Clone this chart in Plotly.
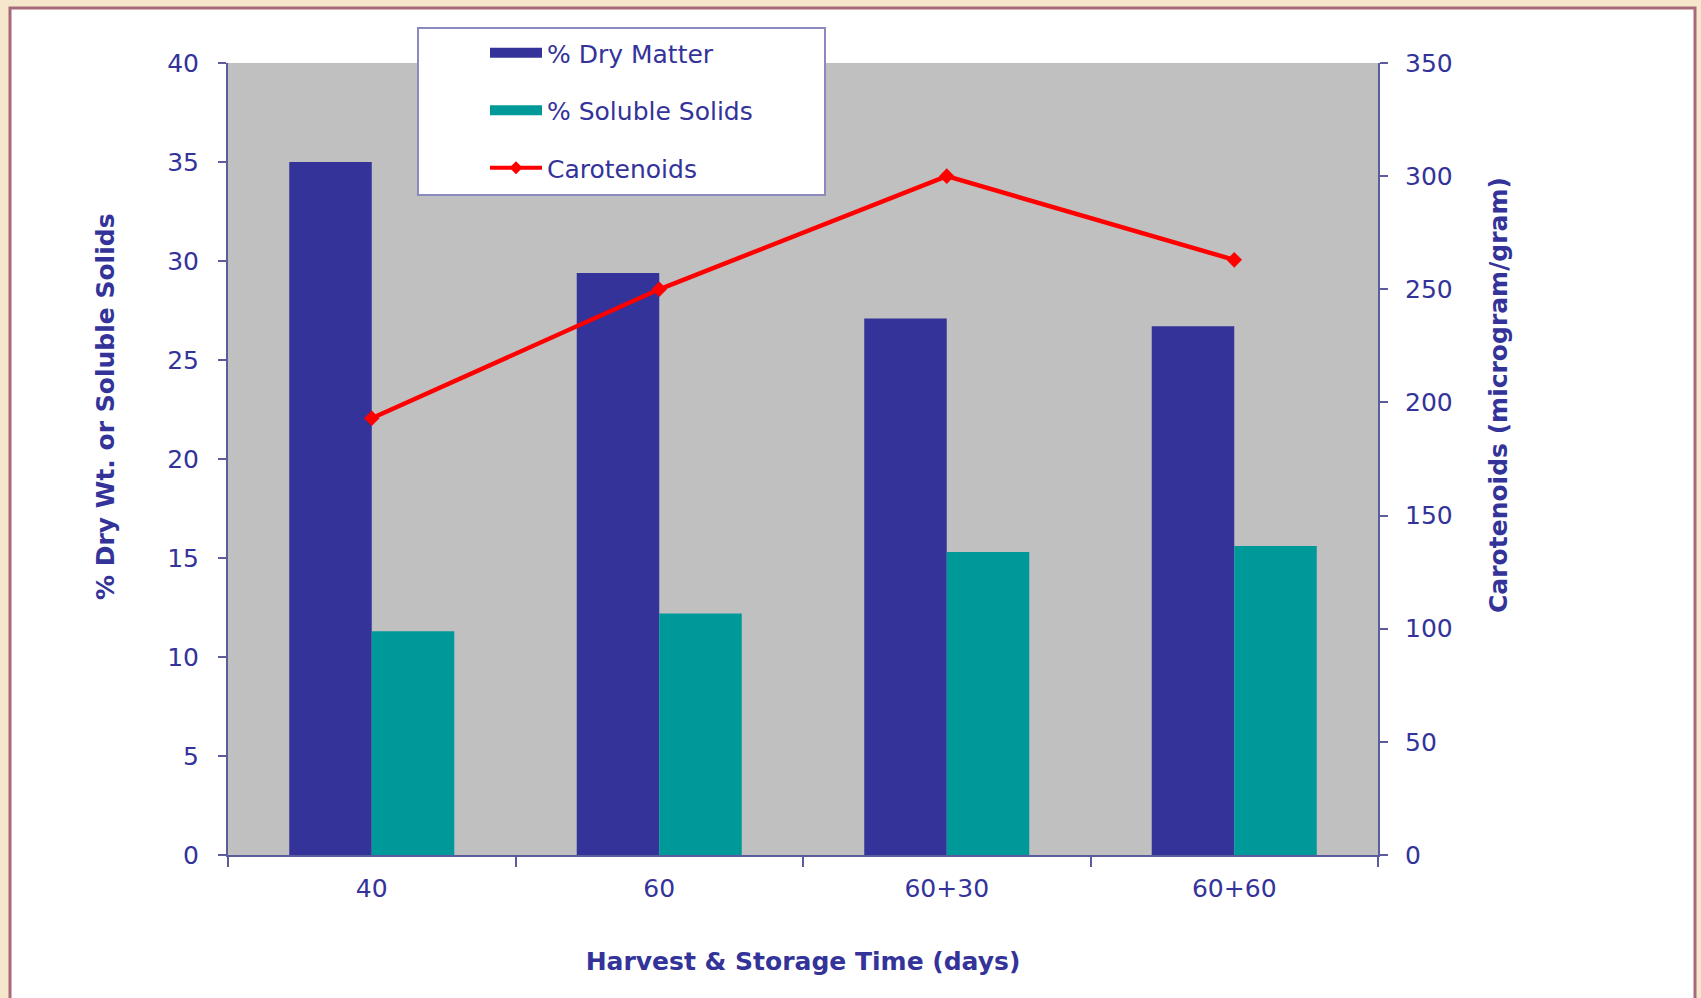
import plotly.graph_objects as go

categories = ["40", "60", "60+30", "60+60"]
dry_matter = [35.0, 29.4, 27.1, 26.7]
soluble_solids = [11.3, 12.2, 15.3, 15.6]
carotenoids = [193, 250, 300, 263]
left_ticks = [0, 5, 10, 15, 20, 25, 30, 35, 40]
right_ticks = [0, 50, 100, 150, 200, 250, 300, 350]

W, H = 1701, 998
L, R, T, B = 228, 1701 - 1378, 63, 998 - 855
pw, ph = W - L - R, H - T - B

def px_x(p):
    return (p - L) / pw

def px_y(p):
    return (H - B - p) / ph

FONT = "DejaVu Sans"
TXT = "#333399"
AX = "#5c5c9c"

fig = go.Figure()
fig.add_trace(go.Bar(x=categories, y=dry_matter, name="% Dry Matter",
                     marker=dict(color="#333399", line=dict(width=0)),
                     showlegend=False, yaxis="y"))
fig.add_trace(go.Bar(x=categories, y=soluble_solids, name="% Soluble Solids",
                     marker=dict(color="#009999", line=dict(width=0)),
                     showlegend=False, yaxis="y"))
fig.add_trace(go.Scatter(x=categories, y=carotenoids, name="Carotenoids",
                         mode="lines+markers", yaxis="y2", showlegend=False,
                         line=dict(color="#ff0000", width=4.5),
                         marker=dict(symbol="diamond", size=12, color="#ff0000")))
# legend entries
fig.add_trace(go.Scatter(x=[None], y=[None], name="% Dry Matter", mode="lines",
                         line=dict(color="#333399", width=13), legendgroup="a"))
fig.add_trace(go.Scatter(x=[None], y=[None], name="% Soluble Solids", mode="lines",
                         line=dict(color="#009999", width=13), legendgroup="b"))
fig.add_trace(go.Scatter(x=[None], y=[None], name="Carotenoids", mode="lines+markers",
                         line=dict(color="#ff0000", width=4),
                         marker=dict(symbol="diamond", size=10, color="#ff0000"),
                         legendgroup="c"))

fig.update_layout(
    width=W, height=H,
    margin=dict(l=L, r=R, t=T, b=B, pad=0),
    paper_bgcolor="#f5e6cc",
    plot_bgcolor="rgba(0,0,0,0)",
    barmode="group", bargap=0.426, bargroupgap=0,
    font=dict(family=FONT, size=25, color=TXT),
    shapes=[
        dict(type="rect", xref="paper", yref="paper", layer="below",
             x0=px_x(10), x1=px_x(1695), y0=px_y(1010), y1=px_y(8),
             fillcolor="white", line=dict(color="#a86a78", width=3)),
        dict(type="rect", xref="paper", yref="paper", layer="below",
             x0=0, x1=1, y0=0, y1=1, fillcolor="#c0c0c0", line=dict(width=0)),
        dict(type="rect", xref="paper", yref="paper", layer="below",
             x0=px_x(418), x1=px_x(825), y0=px_y(195), y1=px_y(28),
             fillcolor="white", line=dict(color="#8a8abf", width=2)),
    ],
    legend=dict(x=px_x(420), y=px_y(30), xanchor="left", yanchor="top",
                bgcolor="rgba(0,0,0,0)", borderwidth=0,
                font=dict(family=FONT, size=25, color=TXT),
                tracegroupgap=22, itemwidth=52, indentation=65,
                traceorder="grouped"),
    annotations=[
        dict(text="<b>% Dry Wt. or Soluble Solids</b>", textangle=-90,
             xref="paper", yref="paper", x=px_x(105), y=px_y(407),
             xanchor="center", yanchor="middle", showarrow=False,
             font=dict(family=FONT, size=25, color=TXT)),
        dict(text="<b>Carotenoids (microgram/gram)</b>", textangle=-90,
             xref="paper", yref="paper", x=px_x(1498), y=px_y(395),
             xanchor="center", yanchor="middle", showarrow=False,
             font=dict(family=FONT, size=25, color=TXT)),
    ],
    xaxis=dict(type="category", showline=True, linecolor=AX, linewidth=2,
               ticks="outside", tickson="boundaries", ticklen=10, tickcolor=AX,
               tickwidth=1.5, showgrid=False, zeroline=False,
               ticklabelstandoff=10,
               tickfont=dict(family=FONT, size=25, color=TXT),
               title=dict(text="<b>Harvest & Storage Time (days)</b>",
                          font=dict(family=FONT, size=25, color=TXT), standoff=50)),
    yaxis=dict(range=[0, 40], tickvals=left_ticks, showline=True, linecolor=AX,
               linewidth=2, ticks="outside", ticklen=8, tickcolor=AX, tickwidth=1.5,
               showgrid=False, zeroline=False, ticklabelstandoff=14,
               tickfont=dict(family=FONT, size=25, color=TXT)),
    yaxis2=dict(range=[0, 350], tickvals=right_ticks, overlaying="y", side="right",
                showline=True, linecolor=AX, linewidth=2, ticks="outside", ticklen=8,
                tickcolor=AX, tickwidth=1.5, showgrid=False, zeroline=False,
                ticklabelstandoff=12,
                tickfont=dict(family=FONT, size=25, color=TXT)),
)

fig.write_html("out.html")
